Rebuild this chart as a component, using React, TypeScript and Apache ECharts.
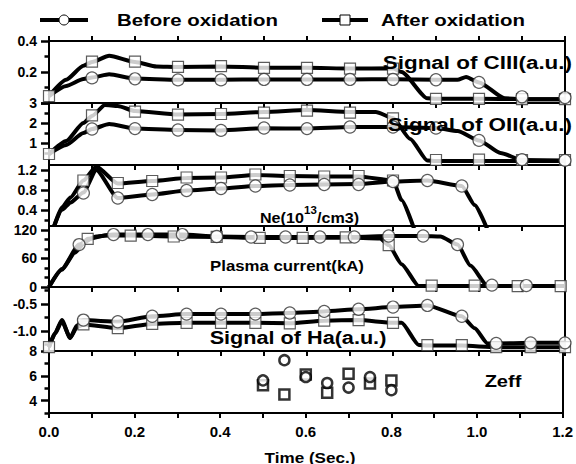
import React, { useEffect, useRef } from "react";
import * as echarts from "echarts";

// ---------- shared x axis ----------
const xTickValues = [0, 0.1, 0.2, 0.3, 0.4, 0.5, 0.6, 0.7, 0.8, 0.9, 1.0, 1.1, 1.2];
const xLabelValues = [0, 0.2, 0.4, 0.6, 0.8, 1.0, 1.2];

// ---------- Panel 1: Signal of CIII ----------
const ciiiLabels = [0.2, 0.4];
const ciiiMajor = [0, 0.2, 0.4];
const ciiiMinor = [0.1, 0.3];
const ciiiBeforeLineT = [0, 0.04, 0.08, 0.1, 0.14, 0.2, 0.3, 0.4, 0.5, 0.6, 0.7, 0.8, 0.9, 0.95, 0.97, 1.0, 1.06, 1.1, 1.2];
const ciiiBeforeLineV = [0.045, 0.11, 0.155, 0.165, 0.185, 0.158, 0.15, 0.15, 0.152, 0.152, 0.152, 0.154, 0.15, 0.15, 0.168, 0.133, 0.03, 0.025, 0.025];
const ciiiBeforeMarkT = [0.1, 0.2, 0.3, 0.4, 0.5, 0.6, 0.7, 0.8, 0.9, 1.0, 1.1, 1.2];
const ciiiBeforeMarkV = [0.162, 0.156, 0.149, 0.149, 0.152, 0.152, 0.152, 0.152, 0.15, 0.133, 0.04, 0.035];
const ciiiAfterLineT = [0, 0.04, 0.08, 0.1, 0.14, 0.2, 0.25, 0.3, 0.4, 0.5, 0.6, 0.7, 0.8, 0.82, 0.88, 0.9, 1.0, 1.1, 1.2];
const ciiiAfterLineV = [0.045, 0.15, 0.24, 0.265, 0.305, 0.265, 0.235, 0.232, 0.236, 0.228, 0.228, 0.222, 0.224, 0.2, 0.03, 0.027, 0.027, 0.025, 0.025];
const ciiiAfterMarkT = [0, 0.1, 0.2, 0.3, 0.4, 0.5, 0.6, 0.7, 0.8, 0.9, 1.0, 1.1, 1.2];
const ciiiAfterMarkV = [0.045, 0.267, 0.267, 0.233, 0.238, 0.227, 0.227, 0.222, 0.222, 0.027, 0.027, 0.025, 0.025];

// ---------- Panel 2: Signal of OII ----------
const oiiLabels = [1, 2, 3];
const oiiMajor = [1, 2, 3];
const oiiMinor = [0.5, 1.5, 2.5];
const oiiBeforeLineT = [0, 0.04, 0.08, 0.1, 0.14, 0.2, 0.3, 0.4, 0.5, 0.6, 0.7, 0.8, 0.9, 0.95, 1.0, 1.05, 1.1, 1.2];
const oiiBeforeLineV = [0.45, 0.9, 1.5, 1.7, 1.95, 1.72, 1.65, 1.63, 1.74, 1.72, 1.8, 1.8, 1.75, 1.6, 1.13, 0.5, 0.15, 0.13];
const oiiBeforeMarkT = [0.1, 0.2, 0.3, 0.4, 0.5, 0.6, 0.7, 0.8, 0.9, 1.0, 1.1, 1.2];
const oiiBeforeMarkV = [1.7, 1.72, 1.65, 1.63, 1.75, 1.72, 1.8, 1.8, 1.75, 1.13, 0.17, 0.13];
const oiiAfterLineT = [0, 0.04, 0.08, 0.1, 0.13, 0.16, 0.2, 0.3, 0.4, 0.5, 0.6, 0.7, 0.76, 0.8, 0.84, 0.88, 0.9, 1.0, 1.2];
const oiiAfterLineV = [0.45, 1.1, 2.0, 2.35, 2.9, 2.85, 2.6, 2.42, 2.45, 2.55, 2.65, 2.55, 2.55, 2.25, 1.2, 0.12, 0.1, 0.1, 0.1];
const oiiAfterMarkT = [0, 0.1, 0.2, 0.3, 0.4, 0.5, 0.6, 0.7, 0.8, 0.9, 1.0, 1.1, 1.2];
const oiiAfterMarkV = [0.45, 2.38, 2.57, 2.42, 2.45, 2.52, 2.62, 2.52, 2.23, 0.15, 0.17, 0.15, 0.15];

// ---------- Panel 3: Ne ----------
const neLabels = [0.4, 0.8, 1.2];
const neMajor = [0.4, 0.8, 1.2];
const neMinor = [0.2, 0.6, 1.0];
const neBeforeLineT = [0.012, 0.03, 0.05, 0.08, 0.11, 0.16, 0.24, 0.32, 0.4, 0.48, 0.56, 0.64, 0.72, 0.8, 0.88, 0.96, 0.99, 1.02];
const neBeforeLineV = [0.08, 0.4, 0.55, 0.75, 1.2, 0.64, 0.71, 0.79, 0.83, 0.88, 0.9, 0.91, 0.92, 0.97, 0.99, 0.88, 0.5, 0.0];
const neBeforeMarkT = [0.08, 0.16, 0.24, 0.32, 0.4, 0.48, 0.56, 0.64, 0.72, 0.8, 0.88, 0.96];
const neBeforeMarkV = [0.74, 0.64, 0.71, 0.79, 0.83, 0.88, 0.9, 0.91, 0.91, 0.97, 0.99, 0.88];
const neAfterLineT = [0.012, 0.03, 0.05, 0.08, 0.11, 0.16, 0.24, 0.32, 0.4, 0.48, 0.56, 0.64, 0.72, 0.8, 0.82, 0.85];
const neAfterLineV = [0.08, 0.45, 0.65, 0.99, 1.27, 0.93, 0.98, 1.04, 1.05, 1.1, 1.08, 1.07, 1.07, 0.99, 0.6, 0.0];
const neAfterMarkT = [0.08, 0.16, 0.24, 0.32, 0.4, 0.48, 0.56, 0.64, 0.72, 0.8];
const neAfterMarkV = [0.99, 0.94, 0.98, 1.05, 1.05, 1.11, 1.08, 1.07, 1.08, 0.99];

// ---------- Panel 4: Plasma current ----------
const ipLabels = [0, 60, 120];
const ipMajor = [0, 60, 120];
const ipMinor = [20, 40, 80, 100];
const ipBeforeLineT = [0, 0.03, 0.07, 0.11, 0.15, 0.23, 0.31, 0.39, 0.47, 0.55, 0.63, 0.71, 0.79, 0.87, 0.91, 0.95, 0.98, 1.02, 1.2];
const ipBeforeLineV = [0, 38, 89, 106, 110, 110, 110, 106, 105, 105, 105, 105, 107, 107, 106, 89, 45, 2, 2];
const ipBeforeMarkT = [0.07, 0.15, 0.23, 0.31, 0.39, 0.47, 0.55, 0.63, 0.71, 0.79, 0.87, 0.95, 1.03, 1.11];
const ipBeforeMarkV = [89, 110, 110, 110, 106, 105, 105, 105, 105, 107, 107, 89, 4, 3];
const ipAfterLineT = [0, 0.03, 0.06, 0.09, 0.13, 0.19, 0.29, 0.39, 0.49, 0.59, 0.69, 0.77, 0.79, 0.82, 0.86, 1.2];
const ipAfterLineV = [0, 36, 72, 101, 108, 108, 106, 105, 103, 103, 104, 102, 88, 48, 2, 2];
const ipAfterMarkT = [0.09, 0.19, 0.29, 0.39, 0.49, 0.59, 0.69, 0.79, 0.89, 0.99, 1.09, 1.19];
const ipAfterMarkV = [101, 108, 106, 105, 103, 103, 104, 88, 3, 3, 2, 2];

// ---------- Panel 5: Signal of Ha ----------
const haLabels = [-1.0, -0.5];
const haMajor = [-1.0, -0.5];
const haMinor = [-1.25, -0.75, -0.25];
const haBeforeLineT = [0, 0.014, 0.03, 0.049, 0.065, 0.08, 0.16, 0.24, 0.32, 0.4, 0.48, 0.56, 0.64, 0.72, 0.8, 0.88, 0.96, 0.99, 1.02, 1.04, 1.12, 1.2];
const haBeforeLineV = [-1.3, -1.04, -0.8, -1.13, -0.9, -0.8, -0.83, -0.73, -0.69, -0.69, -0.69, -0.67, -0.64, -0.6, -0.56, -0.53, -0.73, -0.95, -1.23, -1.23, -1.22, -1.22];
const haBeforeMarkT = [0.08, 0.16, 0.24, 0.32, 0.4, 0.48, 0.56, 0.64, 0.72, 0.8, 0.88, 0.96, 1.04, 1.12, 1.2];
const haBeforeMarkV = [-0.8, -0.83, -0.73, -0.69, -0.69, -0.69, -0.67, -0.64, -0.6, -0.56, -0.53, -0.73, -1.23, -1.22, -1.22];
const haAfterLineT = [0, 0.014, 0.03, 0.049, 0.065, 0.08, 0.16, 0.24, 0.32, 0.4, 0.48, 0.56, 0.64, 0.72, 0.8, 0.82, 0.86, 0.88, 0.96, 1.04, 1.12, 1.2];
const haAfterLineV = [-1.3, -1.05, -0.82, -1.13, -0.93, -0.88, -0.95, -0.87, -0.85, -0.85, -0.85, -0.86, -0.81, -0.8, -0.85, -0.85, -1.26, -1.27, -1.27, -1.3, -1.3, -1.3];
const haAfterMarkT = [0, 0.08, 0.16, 0.24, 0.32, 0.4, 0.48, 0.56, 0.64, 0.72, 0.8, 0.88, 0.96, 1.04, 1.12, 1.2];
const haAfterMarkV = [-1.3, -0.88, -0.95, -0.87, -0.85, -0.85, -0.85, -0.86, -0.81, -0.8, -0.85, -1.26, -1.26, -1.3, -1.3, -1.3];

// ---------- Panel 6: Zeff ----------
const zeffLabels = [4, 6, 8];
const zeffMajor = [4, 6, 8];
const zeffMinor = [3, 5, 7];
const zeffT = [0.5, 0.55, 0.6, 0.65, 0.7, 0.75, 0.8];
const zeffBefore = [5.63, 7.26, 5.9, 5.42, 5.05, 5.9, 4.84];
const zeffAfter = [5.24, 4.5, 6.1, 4.63, 6.16, 5.37, 5.63];

const FONT = "Liberation Sans";

const zip = (t: number[], v: number[]) => t.map((x, i) => [x, v[i]]);

type Panel = {
  top: number;
  height: number;
  min: number;
  max: number;
  labels: number[];
  major: number[];
  minor: number[];
  dec: number;
  beforeLine?: number[][];
  afterLine?: number[][];
  beforeMark: number[][];
  afterMark: number[][];
  zeff?: boolean;
};

const panels: Panel[] = [
  { top: 41, height: 62, min: 0, max: 0.4, labels: ciiiLabels, major: ciiiMajor, minor: ciiiMinor, dec: 1,
    beforeLine: zip(ciiiBeforeLineT, ciiiBeforeLineV), afterLine: zip(ciiiAfterLineT, ciiiAfterLineV),
    beforeMark: zip(ciiiBeforeMarkT, ciiiBeforeMarkV), afterMark: zip(ciiiAfterMarkT, ciiiAfterMarkV) },
  { top: 103, height: 62, min: -0.1, max: 3, labels: oiiLabels, major: oiiMajor, minor: oiiMinor, dec: 0,
    beforeLine: zip(oiiBeforeLineT, oiiBeforeLineV), afterLine: zip(oiiAfterLineT, oiiAfterLineV),
    beforeMark: zip(oiiBeforeMarkT, oiiBeforeMarkV), afterMark: zip(oiiAfterMarkT, oiiAfterMarkV) },
  { top: 165, height: 61, min: 0.08, max: 1.3, labels: neLabels, major: neMajor, minor: neMinor, dec: 1,
    beforeLine: zip(neBeforeLineT, neBeforeLineV), afterLine: zip(neAfterLineT, neAfterLineV),
    beforeMark: zip(neBeforeMarkT, neBeforeMarkV), afterMark: zip(neAfterMarkT, neAfterMarkV) },
  { top: 226, height: 61, min: 0, max: 128, labels: ipLabels, major: ipMajor, minor: ipMinor, dec: 0,
    beforeLine: zip(ipBeforeLineT, ipBeforeLineV), afterLine: zip(ipAfterLineT, ipAfterLineV),
    beforeMark: zip(ipBeforeMarkT, ipBeforeMarkV), afterMark: zip(ipAfterMarkT, ipAfterMarkV) },
  { top: 287, height: 64, min: -1.37, max: -0.19, labels: haLabels, major: haMajor, minor: haMinor, dec: 1,
    beforeLine: zip(haBeforeLineT, haBeforeLineV), afterLine: zip(haAfterLineT, haAfterLineV),
    beforeMark: zip(haBeforeMarkT, haBeforeMarkV), afterMark: zip(haAfterMarkT, haAfterMarkV) },
  { top: 351, height: 62, min: 3, max: 8, labels: zeffLabels, major: zeffMajor, minor: zeffMinor, dec: 0,
    beforeMark: zip(zeffT, zeffBefore), afterMark: zip(zeffT, zeffAfter), zeff: true },
];

const BLACK = "#000";
const LEFT = 49;
const WIDTH = 516;

function buildOption() {
  const grid: any[] = [];
  const xAxis: any[] = [];
  const yAxis: any[] = [];
  const series: any[] = [];
  const n = panels.length;

  // main grids 0..n-1
  panels.forEach((p) => {
    grid.push({ left: LEFT, width: WIDTH, top: p.top, height: p.height, show: false });
  });
  // overlay grids n..2n-1 (for minor y ticks)
  panels.forEach((p) => {
    grid.push({ left: LEFT, width: WIDTH, top: p.top, height: p.height, show: false });
  });

  // x axes: bottom axis of each main grid (index i)
  panels.forEach((p, i) => {
    xAxis.push({
      type: "value", gridIndex: i, min: 0, max: 1.2, position: "bottom",
      axisLine: { show: true, onZero: false, lineStyle: { color: BLACK, width: 2 } },
      axisTick: { show: true, customValues: xTickValues, length: 5, lineStyle: { color: BLACK, width: 2 } },
      axisLabel: {
        show: i === n - 1, customValues: xLabelValues,
        formatter: (v: number) => v.toFixed(1),
        color: BLACK, fontFamily: FONT, fontWeight: "bold", fontSize: 15, margin: 11,
      },
      splitLine: { show: false },
    });
  });
  // hidden x axes for overlay grids (index n+i)
  panels.forEach((p, i) => {
    xAxis.push({ type: "value", gridIndex: n + i, min: 0, max: 1.2, show: false });
  });
  // top axis of first panel (index 2n)
  xAxis.push({
    type: "value", gridIndex: 0, min: 0, max: 1.2, position: "top",
    axisLine: { show: true, onZero: false, lineStyle: { color: BLACK, width: 2 } },
    axisTick: { show: true, customValues: xTickValues, length: 5, lineStyle: { color: BLACK, width: 2 } },
    axisLabel: { show: false },
    splitLine: { show: false },
  });

  // y axes: major left (index i)
  panels.forEach((p, i) => {
    yAxis.push({
      type: "value", gridIndex: i, min: p.min, max: p.max, position: "left",
      axisLine: { show: true, onZero: false, lineStyle: { color: BLACK, width: 2 } },
      axisTick: { show: true, customValues: p.major, length: 8, lineStyle: { color: BLACK, width: 2.5 } },
      axisLabel: {
        customValues: p.labels,
        formatter: (v: number) => v.toFixed(p.dec),
        color: BLACK, fontFamily: FONT, fontWeight: "bold", fontSize: 14, margin: 12,
      },
      splitLine: { show: false },
    });
  });
  // right border (index n+i)
  panels.forEach((p, i) => {
    yAxis.push({
      type: "value", gridIndex: i, min: p.min, max: p.max, position: "right",
      axisLine: { show: true, onZero: false, lineStyle: { color: BLACK, width: 2 } },
      axisTick: { show: false },
      axisLabel: { show: false },
      splitLine: { show: false },
    });
  });
  // minor ticks on overlay grids (index 2n+i)
  panels.forEach((p, i) => {
    yAxis.push({
      type: "value", gridIndex: n + i, min: p.min, max: p.max, position: "left",
      axisLine: { show: false, onZero: false },
      axisTick: { show: true, customValues: p.minor, length: 4.5, lineStyle: { color: BLACK, width: 2.5 } },
      axisLabel: { show: false },
      splitLine: { show: false },
    });
  });

  panels.forEach((p, i) => {
    if (p.afterLine) {
      series.push({
        type: "line", xAxisIndex: i, yAxisIndex: i, data: p.afterLine, symbol: "none",
        smooth: 0.2, smoothMonotone: "x",
        lineStyle: { color: BLACK, width: 4 }, z: 2,
      });
    }
    if (p.beforeLine) {
      series.push({
        type: "line", xAxisIndex: i, yAxisIndex: i, data: p.beforeLine, symbol: "none",
        smooth: 0.2, smoothMonotone: "x",
        lineStyle: { color: BLACK, width: 4 }, z: 2,
      });
    }
    const markStyle = p.zeff
      ? { color: "#fff", borderColor: BLACK, borderWidth: 2.5 }
      : { color: "#fff", borderColor: "#333", borderWidth: 1.2 };
    series.push({
      type: "scatter", xAxisIndex: i, yAxisIndex: i, data: p.afterMark,
      symbol: "rect", symbolSize: p.zeff ? 10 : 11, itemStyle: markStyle, z: 4, clip: false,
    });
    series.push({
      type: "scatter", xAxisIndex: i, yAxisIndex: i, data: p.beforeMark,
      symbol: "circle", symbolSize: p.zeff ? 10 : 12, itemStyle: markStyle, z: 4, clip: false,
    });
  });

  const txt = (text: string, x: number, y: number, size: number, sx: number, align: string) => ({
    type: "text", x, y, scaleX: sx, z: 100,
    style: {
      text, fill: BLACK, fontFamily: FONT, fontWeight: "bold", fontSize: size,
      textAlign: align, textVerticalAlign: "middle",
    },
  });

  const graphic: any[] = [
    // legend
    { type: "line", shape: { x1: 40, y1: 20, x2: 88, y2: 20 }, style: { stroke: BLACK, lineWidth: 4 }, z: 100 },
    { type: "circle", shape: { cx: 64, cy: 20, r: 5 }, style: { fill: "#fff", stroke: BLACK, lineWidth: 1 }, z: 101 },
    txt("Before oxidation", 117, 20, 17, 1.2, "left"),
    { type: "line", shape: { x1: 322, y1: 20, x2: 368, y2: 20 }, style: { stroke: BLACK, lineWidth: 4 }, z: 100 },
    { type: "rect", shape: { x: 340, y: 15, width: 10, height: 10 }, style: { fill: "#fff", stroke: BLACK, lineWidth: 1 }, z: 101 },
    txt("After oxidation", 381, 20, 17, 1.2, "left"),
    // panel labels
    txt("Signal of CIII(a.u.)", 572, 62, 19, 1.18, "right"),
    txt("Signal of OII(a.u.)", 572, 124, 19, 1.18, "right"),
    txt("Ne(10", 260, 218, 14, 1.15, "left"),
    txt("13", 304, 210, 10, 1.15, "left"),
    txt("/cm3)", 317, 218, 14, 1.15, "left"),
    txt("Plasma current(kA)", 287, 266, 15, 1.12, "center"),
    txt("Signal of Ha(a.u.)", 298, 338, 18.5, 1.17, "center"),
    txt("Zeff", 503, 381, 17, 1.18, "center"),
    txt("Time (Sec.)", 310, 457, 15, 1.14, "center"),
  ];

  return {
    animation: false,
    backgroundColor: "#fff",
    grid,
    xAxis,
    yAxis,
    series,
    graphic,
  };
}

export default function App() {
  const ref = useRef<HTMLDivElement>(null);
  useEffect(() => {
    document.body.style.margin = "0";
    if (!ref.current) return;
    const chart = echarts.init(ref.current, undefined, { renderer: "svg" });
    chart.setOption(buildOption() as any);
    return () => chart.dispose();
  }, []);
  return <div ref={ref} style={{ width: 576, height: 464 }} />;
}
